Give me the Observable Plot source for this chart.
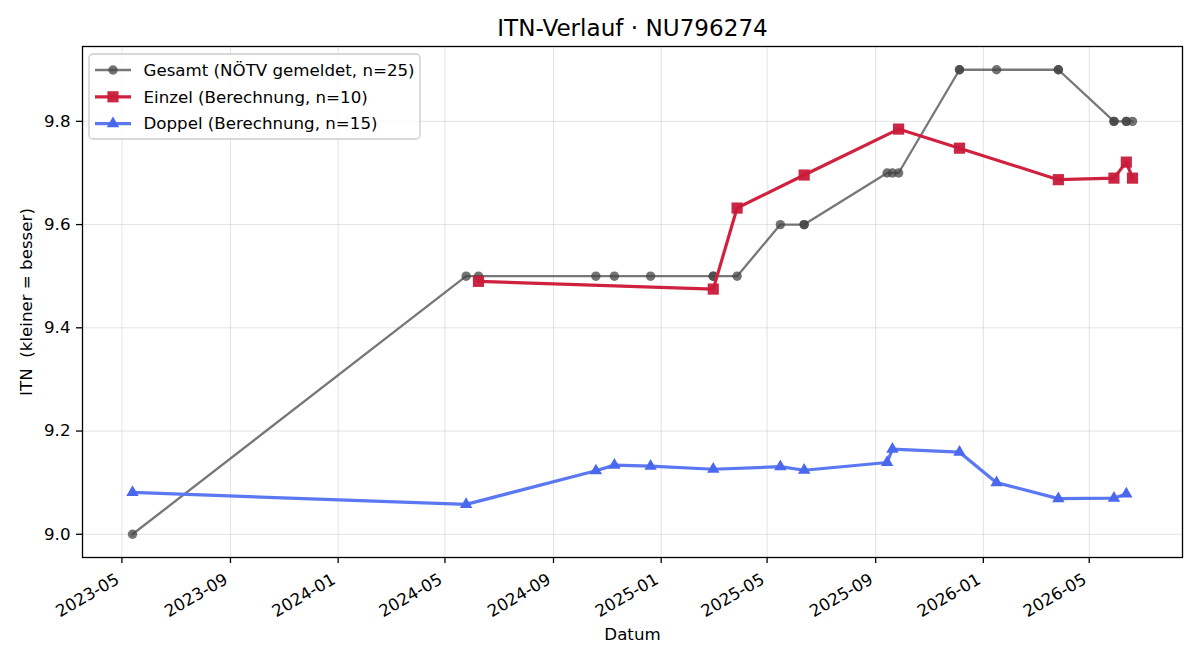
<!DOCTYPE html>
<html><head><meta charset="utf-8">
<script src="https://cdn.jsdelivr.net/npm/d3@7"></script>
<script src="https://cdn.jsdelivr.net/npm/@observablehq/plot@0.6"></script>
<style>
body{margin:0;background:#fff;}
#chart{position:relative;width:1200px;height:660px;}
</style>
</head><body><div id="chart"></div>
<script>
// ---- text ----
const title = "ITN-Verlauf · NU796274";
const xLabel = "Datum";
const yLabel = "ITN  (kleiner = besser)";
const seriesNames = ["Gesamt (NÖTV gemeldet, n=25)", "Einzel (Berechnung, n=10)", "Doppel (Berechnung, n=15)"];

// ---- ticks ----
const xTickLabels = ["2023-05","2023-09","2024-01","2024-05","2024-09","2025-01","2025-05","2025-09","2026-01","2026-05"];
const yTickValues = [9.0, 9.2, 9.4, 9.6, 9.8];

// ---- data ----
const gesamtDates = ["2023-05-13","2024-05-25","2024-06-08","2024-10-19","2024-11-09","2024-12-20","2025-03-01","2025-03-01","2025-03-28","2025-05-16","2025-06-12","2025-06-12","2025-09-14","2025-09-20","2025-09-27","2025-12-05","2025-12-05","2026-01-16","2026-03-27","2026-03-27","2026-05-29","2026-05-29","2026-06-12","2026-06-12","2026-06-19"];
const gesamtValues = [9.0, 9.5,9.5,9.5,9.5,9.5,9.5,9.5,9.5, 9.6,9.6,9.6, 9.7,9.7,9.7, 9.9,9.9,9.9,9.9,9.9, 9.8,9.8,9.8,9.8,9.8];

const einzelDates = ["2024-06-08","2025-03-01","2025-03-28","2025-06-12","2025-09-27","2025-12-05","2026-03-27","2026-05-29","2026-06-12","2026-06-19"];
const einzelValues = [9.490, 9.475, 9.632, 9.696, 9.785, 9.748, 9.687, 9.690, 9.721, 9.690];

const doppelDates = ["2023-05-13","2024-05-25","2024-10-19","2024-11-09","2024-12-20","2025-03-01","2025-05-16","2025-06-12","2025-09-14","2025-09-20","2025-12-05","2026-01-16","2026-03-27","2026-05-29","2026-06-12"];
const doppelValues = [9.081, 9.058, 9.123, 9.134, 9.132, 9.126, 9.131, 9.124, 9.139, 9.165, 9.159, 9.100, 9.069, 9.070, 9.078];

// ---- styles ----
const colors = {gesamtLine:"#555555", gesamtDot:"#444444", einzelLine:"#d0213f", einzelDot:"#c81a3a", doppelLine:"#5a78f2", doppelDot:"#4a68ee"};

const parse = d3.utcParse("%Y-%m-%d");
const rows = (name, dates, values) => dates.map((d, i) => ({series: name, date: parse(d), value: values[i]}));
const gesamt = rows(seriesNames[0], gesamtDates, gesamtValues);
const einzel = rows(seriesNames[1], einzelDates, einzelValues);
const doppel = rows(seriesNames[2], doppelDates, doppelValues);
const all = [...gesamt, ...einzel, ...doppel];

const [x0, x1] = d3.extent(all, d => d.date);
const padX = (x1 - x0) * 0.05;
const [y0, y1] = d3.extent(all, d => d.value);
const padY = (y1 - y0) * 0.05;
const xTicks = xTickLabels.map(d3.utcParse("%Y-%m"));
const fmtX = d3.utcFormat("%Y-%m");

const plot = Plot.plot({
  width: 1200, height: 660,
  marginLeft: 82, marginRight: 18, marginTop: 46, marginBottom: 103,
  style: {fontFamily: "'DejaVu Sans', sans-serif", fontSize: "16.67px", background: "#fff", color: "#000"},
  x: {type: "utc", domain: [new Date(+x0 - padX), new Date(+x1 + padX)]},
  y: {domain: [y0 - padY, y1 + padY]},
  marks: [
    Plot.gridX(xTicks, {stroke: "#b0b0b0", strokeOpacity: 0.35, strokeWidth: 1}),
    Plot.gridY(yTickValues, {stroke: "#b0b0b0", strokeOpacity: 0.35, strokeWidth: 1}),
    Plot.axisX(xTicks, {text: null, tickSize: 6, label: null, strokeWidth: 1.3}),
    Plot.text(xTicks, {x: d => d, text: d => fmtX(d), frameAnchor: "bottom", textAnchor: "end", lineAnchor: "middle", rotate: -30, dx: -4.2, dy: 20.5, fontSize: 16.67, fill: "#000"}),
    Plot.axisY(yTickValues, {tickFormat: d3.format(".1f"), tickSize: 6, tickPadding: 6, label: null, strokeWidth: 1.3}),
    Plot.line(gesamt, {x: "date", y: "value", stroke: colors.gesamtLine, strokeWidth: 2.3, strokeOpacity: 0.8}),
    Plot.dot(gesamt, {x: "date", y: "value", symbol: "circle", r: 4.7, fill: colors.gesamtDot, fillOpacity: 0.75}),
    Plot.line(einzel, {x: "date", y: "value", stroke: colors.einzelLine, strokeWidth: 3.2}),
    Plot.dot(einzel, {x: "date", y: "value", symbol: "square", r: 6.3, fill: colors.einzelDot, fillOpacity: 0.95}),
    Plot.line(doppel, {x: "date", y: "value", stroke: colors.doppelLine, strokeWidth: 3.2}),
    Plot.dot(doppel, {x: "date", y: "value", symbol: "triangle", r: 4.6, fill: colors.doppelDot}),
    Plot.frame({stroke: "#000", strokeWidth: 1.3}),
    Plot.text([title], {text: d => d, frameAnchor: "top", textAnchor: "middle", lineAnchor: "middle", dy: -18, fontSize: 23.1, fill: "#000"}),
    Plot.text([xLabel], {text: d => d, frameAnchor: "bottom", textAnchor: "middle", lineAnchor: "middle", dy: 77, fontSize: 16.67, fill: "#000"}),
    Plot.text([yLabel], {text: d => d, frameAnchor: "left", textAnchor: "middle", lineAnchor: "middle", rotate: -90, dx: -55.5, fontSize: 16.67, fill: "#000"})
  ]
});
document.getElementById("chart").appendChild(plot);

// ---- legend (inside axes, upper left) ----
const svg = d3.select(plot);
const lg = svg.append("g").attr("transform", "translate(89,54)");
lg.append("rect").attr("width", 331).attr("height", 85).attr("rx", 4)
  .attr("fill", "#fff").attr("fill-opacity", 0.8).attr("stroke", "#cccccc").attr("stroke-width", 1.3);
const legendItems = [
  {name: seriesNames[0], line: colors.gesamtLine, lineW: 2.3, lineO: 0.8, dot: colors.gesamtDot, dotO: 0.75, sym: d3.symbolCircle, r: 4.7},
  {name: seriesNames[1], line: colors.einzelLine, lineW: 3.2, lineO: 1, dot: colors.einzelDot, dotO: 0.95, sym: d3.symbolSquare, r: 6.3},
  {name: seriesNames[2], line: colors.doppelLine, lineW: 3.2, lineO: 1, dot: colors.doppelDot, dotO: 1, sym: d3.symbolTriangle, r: 4.6}
];
legendItems.forEach((it, i) => {
  const g = lg.append("g").attr("transform", `translate(0,${16 + i * 26.8})`);
  g.append("line").attr("x1", 6).attr("x2", 42).attr("y1", 0).attr("y2", 0)
    .attr("stroke", it.line).attr("stroke-width", it.lineW).attr("stroke-opacity", it.lineO);
  g.append("path").attr("transform", "translate(24,0)")
    .attr("d", d3.symbol(it.sym, Math.PI * it.r * it.r)())
    .attr("fill", it.dot).attr("fill-opacity", it.dotO);
  g.append("text").attr("x", 54.5).attr("y", 0).attr("dy", "0.35em")
    .attr("text-anchor", "start").attr("font-size", 16.67).attr("fill", "#000").text(it.name);
});
</script>
</body></html>
